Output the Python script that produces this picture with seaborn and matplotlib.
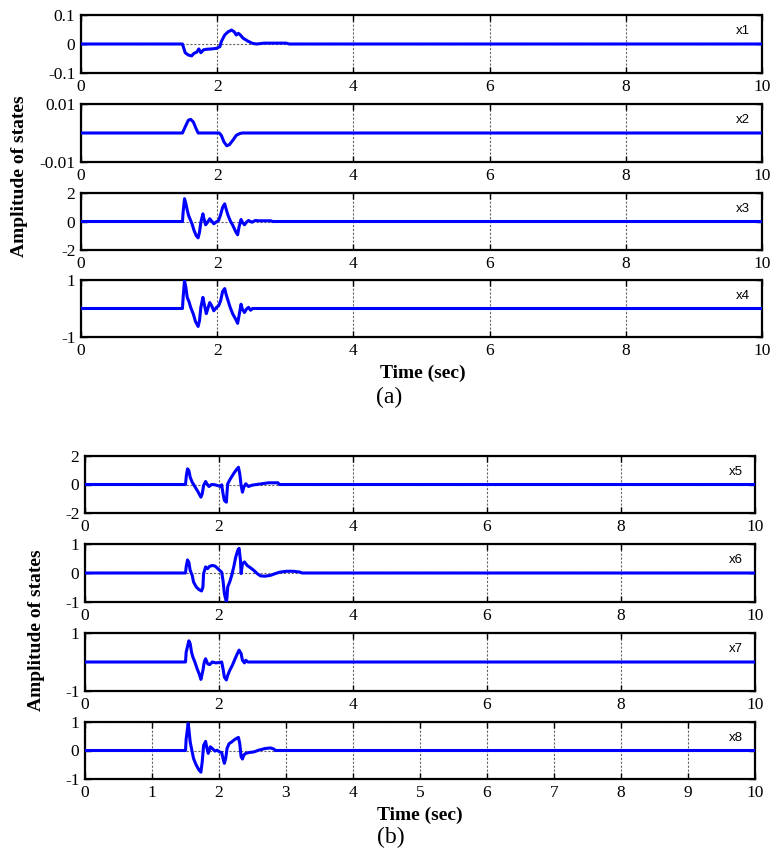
import matplotlib
matplotlib.use("Agg")
import matplotlib.pyplot as plt
import seaborn as sns
import pandas as pd

# ---- state trajectories (time in seconds) ----
t_x1 = [0, 1.49, 1.53, 1.576, 1.625, 1.66, 1.70, 1.73, 1.76, 1.80, 1.85, 1.92, 1.99, 2.04,
        2.06, 2.11, 2.16, 2.21, 2.25, 2.28, 2.31, 2.34, 2.38, 2.45, 2.52, 2.58, 2.69, 3.01, 3.06, 10]
x1 = [0, 0, -0.030, -0.038, -0.041, -0.032, -0.028, -0.017, -0.030, -0.020, -0.018, -0.017, -0.015,
      -0.009, 0.008, 0.031, 0.042, 0.048, 0.042, 0.031, 0.037, 0.031, 0.020, 0.010, 0.002, 0,
      0.003, 0.003, 0, 0]

t_x2 = [0, 1.49, 1.53, 1.576, 1.61, 1.65, 1.69, 1.72, 2.03, 2.06, 2.10, 2.14, 2.18, 2.23, 2.28,
        2.33, 2.37, 10]
x2 = [0, 0, 0.0021, 0.0044, 0.0047, 0.0038, 0.0015, 0, 0, -0.0008, -0.0031, -0.0044, -0.0040,
      -0.0025, -0.0008, -0.0002, 0, 0]

t_x3 = [0, 1.49, 1.50, 1.52, 1.54, 1.56, 1.58, 1.60, 1.63, 1.66, 1.69, 1.72, 1.74, 1.76, 1.79,
        1.80, 1.83, 1.86, 1.89, 1.92, 1.95, 1.98, 2.02, 2.05, 2.08, 2.11, 2.13, 2.16, 2.19, 2.23,
        2.27, 2.30, 2.32, 2.35, 2.37, 2.40, 2.43, 2.46, 2.51, 2.56, 2.61, 2.79, 2.81, 10]
x3 = [0, 0, 0.68, 1.60, 1.26, 0.80, 0.42, 0.19, -0.16, -0.63, -0.98, -1.15, -0.75, -0.05, 0.54,
      0.30, -0.23, -0.05, 0.19, 0.02, -0.16, -0.05, 0.07, 0.47, 1.00, 1.24, 0.89, 0.42, 0.07,
      -0.28, -0.70, -0.93, -0.40, 0.14, -0.05, -0.23, -0.05, 0.07, -0.05, 0.07, 0.05, 0.05, 0, 0]

t_x4 = [0, 1.49, 1.50, 1.52, 1.54, 1.56, 1.59, 1.61, 1.65, 1.68, 1.72, 1.74, 1.76, 1.79, 1.81,
        1.84, 1.86, 1.89, 1.92, 1.95, 1.99, 2.02, 2.05, 2.08, 2.11, 2.13, 2.16, 2.19, 2.23, 2.27,
        2.30, 2.32, 2.35, 2.37, 2.40, 2.43, 2.46, 2.49, 2.52, 10]
x4 = [0, 0, 0.39, 0.98, 0.74, 0.39, 0.21, 0.04, -0.20, -0.45, -0.63, -0.43, 0.04, 0.39, 0.15,
      -0.18, -0.02, 0.21, 0.09, -0.08, 0.04, 0.09, 0.27, 0.60, 0.70, 0.50, 0.27, 0.04, -0.20,
      -0.37, -0.52, -0.26, 0.15, -0.02, -0.14, -0.02, 0.04, -0.06, 0, 0]

t_x5 = [0, 1.50, 1.513, 1.53, 1.55, 1.57, 1.60, 1.63, 1.66, 1.69, 1.73, 1.75, 1.77, 1.80, 1.82,
        1.85, 1.89, 1.94, 1.99, 2.02, 2.04, 2.06, 2.08, 2.11, 2.12, 2.13, 2.17, 2.21, 2.25, 2.29,
        2.31, 2.33, 2.35, 2.37, 2.40, 2.44, 2.49, 2.56, 2.64, 2.74, 2.88, 2.90, 10]
x5 = [0, 0, 0.63, 1.10, 0.98, 0.51, 0.16, -0.07, -0.30, -0.54, -0.89, -0.65, -0.07, 0.21, 0.05,
      -0.14, 0, -0.02, -0.09, -0.14, -0.02, -0.65, -1.12, -1.24, -0.54, 0.05, 0.40, 0.70, 0.98,
      1.21, 0.75, -0.07, -0.54, -0.19, 0.05, -0.14, -0.05, 0, 0.05, 0.12, 0.12, 0, 0]

t_x6 = [0, 1.50, 1.51, 1.53, 1.55, 1.57, 1.60, 1.62, 1.66, 1.70, 1.74, 1.76, 1.77, 1.80, 1.83,
        1.86, 1.90, 1.94, 1.97, 2.01, 2.04, 2.06, 2.08, 2.11, 2.12, 2.13, 2.16, 2.19, 2.22, 2.25,
        2.28, 2.30, 2.32, 2.33, 2.35, 2.38, 2.42, 2.47, 2.52, 2.57, 2.62, 2.69, 2.77, 2.84, 2.91,
        3.01, 3.11, 3.21, 3.24, 10]
x6 = [0, 0, 0.21, 0.45, 0.37, 0.09, -0.08, -0.31, -0.48, -0.57, -0.62, -0.48, -0.02, 0.21, 0.15,
      0.23, 0.26, 0.24, 0.18, 0.09, 0.03, -0.26, -0.71, -1.00, -0.83, -0.48, -0.31, -0.08, 0.21,
      0.55, 0.78, 0.85, 0.44, -0.02, 0.32, 0.38, 0.26, 0.18, 0.09, -0.02, -0.10, -0.11, -0.08,
      -0.02, 0.03, 0.06, 0.06, 0.03, 0, 0]

t_x7 = [0, 1.50, 1.51, 1.55, 1.57, 1.59, 1.61, 1.64, 1.67, 1.71, 1.73, 1.76, 1.78, 1.80, 1.83,
        1.86, 1.90, 1.95, 2.00, 2.04, 2.06, 2.08, 2.11, 2.13, 2.16, 2.20, 2.24, 2.28, 2.30, 2.33,
        2.35, 2.38, 2.40, 2.43, 10]
x7 = [0, 0, 0.34, 0.73, 0.63, 0.34, 0.17, 0, -0.21, -0.45, -0.60, -0.29, 0, 0.11, -0.06, -0.09,
      0, -0.03, -0.02, 0, -0.23, -0.52, -0.62, -0.46, -0.29, -0.11, 0.11, 0.32, 0.41, 0.29, 0.06,
      -0.03, 0.06, 0, 0]

t_x8 = [0, 1.50, 1.51, 1.54, 1.55, 1.57, 1.60, 1.62, 1.66, 1.70, 1.73, 1.75, 1.77, 1.80, 1.82,
        1.84, 1.87, 1.90, 1.94, 1.97, 2.01, 2.04, 2.06, 2.08, 2.10, 2.12, 2.15, 2.19, 2.22, 2.25,
        2.29, 2.31, 2.33, 2.35, 2.37, 2.40, 2.45, 2.52, 2.59, 2.69, 2.77, 2.82, 2.84, 10]
x8 = [0, 0, 0.41, 0.95, 0.76, 0.30, -0.05, -0.28, -0.51, -0.68, -0.76, -0.39, 0.18, 0.32, 0.07,
      -0.10, 0.13, 0.07, -0.02, 0.01, -0.05, -0.07, -0.28, -0.45, -0.28, 0.07, 0.24, 0.30, 0.36,
      0.41, 0.46, 0.24, -0.22, -0.30, -0.16, -0.10, -0.07, -0.05, 0.01, 0.07, 0.09, 0.05, 0, 0]

state_names = ["x1", "x2", "x3", "x4", "x5", "x6", "x7", "x8"]
state_times = [t_x1, t_x2, t_x3, t_x4, t_x5, t_x6, t_x7, t_x8]
state_values = [x1, x2, x3, x4, x5, x6, x7, x8]

y_limits = [(-0.1, 0.1), (-0.01, 0.01), (-2, 2), (-1, 1), (-2, 2), (-1, 1), (-1, 1), (-1, 1)]
y_ticks = [[-0.1, 0, 0.1], [-0.01, 0.01], [-2, 0, 2], [-1, 1],
           [-2, 0, 2], [-1, 0, 1], [-1, 1], [-1, 0, 1]]
x_ticks_coarse = [0, 2, 4, 6, 8, 10]
x_ticks_fine = [0, 1, 2, 3, 4, 5, 6, 7, 8, 9, 10]

# ---- styling ----
sns.set_style("white")
plt.rcParams["font.family"] = ["Liberation Serif", "DejaVu Serif"]
plt.rcParams["axes.unicode_minus"] = False
plt.rcParams["text.color"] = "black"

W, H = 772, 852
fig = plt.figure(figsize=(W / 100, H / 100), dpi=100)

# axes boxes in pixel units: (left, right, top, bottom)
boxes = [(81, 762, 15, 73), (81, 762, 104, 162), (81, 762, 193, 250), (81, 762, 280, 337),
         (85, 755, 456, 513), (85, 755, 544, 602), (85, 755, 633, 691), (85, 755, 722, 779)]

serif = ["Liberation Serif", "DejaVu Serif"]

for i, (name, tt, vv) in enumerate(zip(state_names, state_times, state_values)):
    l, r, t, b = boxes[i]
    ax = fig.add_axes([l / W, 1 - b / H, (r - l) / W, (b - t) / H])
    df = pd.DataFrame({"t": tt, "v": vv})
    ax.grid(True, color="#4a4a4a", linestyle=(0, (2, 1.5)), linewidth=0.8, alpha=0.85)
    ax.set_axisbelow(True)
    sns.lineplot(data=df, x="t", y="v", ax=ax, color="#0000FF", linewidth=2.2,
                 estimator=None, sort=False, zorder=3)
    ax.set_xlim(0, 10)
    ax.set_ylim(*y_limits[i])
    xt = x_ticks_fine if i == 7 else x_ticks_coarse
    ax.set_xticks(xt)
    ax.set_xticklabels([f"{v:g}" for v in xt], fontsize=12.5, family=serif)
    ax.set_yticks(y_ticks[i])
    ax.set_yticklabels([f"{v:g}" for v in y_ticks[i]], fontsize=12.5, family=serif)
    ax.set_xlabel("")
    ax.set_ylabel("")
    ax.tick_params(direction="in", length=4, width=1, top=True, right=True,
                   bottom=True, left=True, pad=4, colors="black")
    for sp in ax.spines.values():
        sp.set_visible(True)
        sp.set_color("black")
        sp.set_linewidth(1.6)
    ax.text(0.982, 0.72, name, transform=ax.transAxes, ha="right", va="center",
            fontsize=9.5, family=["Liberation Sans", "DejaVu Sans"], zorder=5)

# axis titles and panel captions
fig.text(423 / W, 1 - 373 / H, "Time (sec)", ha="center", va="center",
         fontsize=14, fontweight="bold", family=serif)
fig.text(389 / W, 1 - 397 / H, "(a)", ha="center", va="center", fontsize=17, family=serif)
fig.text(20 / W, 1 - 176 / H, "Amplitude of states", ha="center", va="center",
         rotation=90, fontsize=14, fontweight="bold", family=serif)

fig.text(420 / W, 1 - 815 / H, "Time (sec)", ha="center", va="center",
         fontsize=14, fontweight="bold", family=serif)
fig.text(391 / W, 1 - 837 / H, "(b)", ha="center", va="center", fontsize=17, family=serif)
fig.text(37 / W, 1 - 630 / H, "Amplitude of states", ha="center", va="center",
         rotation=90, fontsize=14, fontweight="bold", family=serif)

fig.savefig("out.png", dpi=100)
